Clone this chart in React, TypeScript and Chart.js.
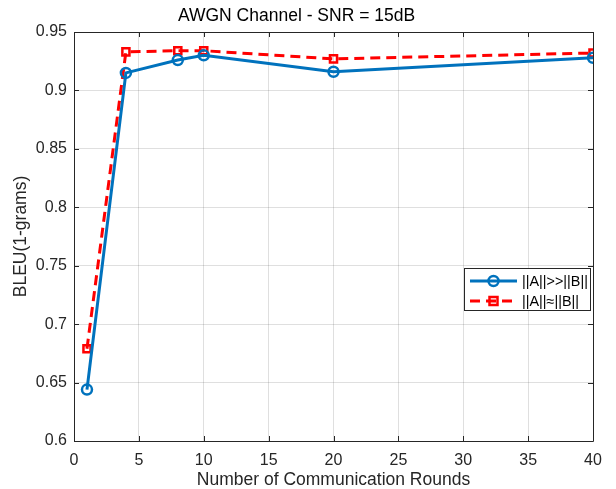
import React, { useEffect, useRef } from 'react';
import { Chart, registerables } from 'chart.js';

Chart.register(...registerables);

const rounds = [1, 4, 8, 10, 20, 40];
const bleuDominant = [0.644, 0.915, 0.926, 0.930, 0.916, 0.928];
const bleuEqual = [0.679, 0.933, 0.934, 0.934, 0.927, 0.932];
const seriesLabels = ['||A||>>||B||', '||A||\u2248||B||'];
const chartTitle = 'AWGN Channel - SNR = 15dB';
const xAxisTitle = 'Number of Communication Rounds';
const yAxisTitle = 'BLEU(1-grams)';
const xTickValues = [0, 5, 10, 15, 20, 25, 30, 35, 40];
const yTickValues = [0.6, 0.65, 0.7, 0.75, 0.8, 0.85, 0.9, 0.95];

const FONT = '"Liberation Sans", Arial, Helvetica, sans-serif';
const AXIS_COLOR = '#262626';
const BLUE = '#0072BD';
const RED = '#FF0000';

const frameAndLegend = {
  id: 'frameAndLegend',
  afterDraw(chart: any) {
    const { ctx, chartArea } = chart;
    const { left, right, top, bottom } = chartArea;
    const xs = chart.scales.x;
    const ys = chart.scales.y;
    ctx.save();
    // frame
    ctx.strokeStyle = AXIS_COLOR;
    ctx.lineWidth = 1;
    ctx.beginPath();
    ctx.rect(Math.round(left) + 0.5, Math.round(top) + 0.5, Math.round(right - left), Math.round(bottom - top));
    ctx.stroke();
    // inward ticks
    const tl = 5;
    ctx.beginPath();
    xTickValues.forEach((v) => {
      const px = Math.round(xs.getPixelForValue(v)) + 0.5;
      ctx.moveTo(px, bottom);
      ctx.lineTo(px, bottom - tl);
      ctx.moveTo(px, top);
      ctx.lineTo(px, top + tl);
    });
    yTickValues.forEach((v) => {
      const py = Math.round(ys.getPixelForValue(v)) + 0.5;
      ctx.moveTo(left, py);
      ctx.lineTo(left + tl, py);
      ctx.moveTo(right, py);
      ctx.lineTo(right - tl, py);
    });
    ctx.stroke();

    // legend
    const lx = right - 129;
    const ly = top + 236;
    const lw = 126;
    const lh = 42;
    ctx.fillStyle = '#ffffff';
    ctx.fillRect(lx, ly, lw, lh);
    ctx.strokeStyle = AXIS_COLOR;
    ctx.lineWidth = 1;
    ctx.strokeRect(Math.round(lx) + 0.5, Math.round(ly) + 0.5, lw, lh);
    const rows = [ly + 13, ly + 33];
    chart.data.datasets.forEach((ds: any, i: number) => {
      const cy = rows[i];
      const x0 = lx + 6;
      const x1 = lx + 53;
      const cx = (x0 + x1) / 2;
      ctx.strokeStyle = ds.borderColor;
      ctx.lineWidth = ds.borderWidth;
      ctx.setLineDash(ds.borderDash || []);
      ctx.beginPath();
      ctx.moveTo(x0, cy);
      ctx.lineTo(x1, cy);
      ctx.stroke();
      ctx.setLineDash([]);
      ctx.lineWidth = ds.pointBorderWidth;
      ctx.strokeStyle = ds.pointBorderColor;
      ctx.beginPath();
      if (ds.pointStyle === 'rect') {
        const s = ds.pointRadius * 1.6;
        ctx.rect(cx - s / 2, cy - s / 2, s, s);
      } else {
        ctx.arc(cx, cy, ds.pointRadius, 0, Math.PI * 2);
      }
      ctx.stroke();
      ctx.fillStyle = '#000000';
      ctx.font = `14.4px ${FONT}`;
      ctx.textAlign = 'left';
      ctx.textBaseline = 'middle';
      ctx.fillText(ds.label, lx + 58, cy + 1);
    });
    ctx.restore();
  },
};

export default function App() {
  const canvasRef = useRef<HTMLCanvasElement | null>(null);

  useEffect(() => {
    if (!canvasRef.current) return;
    const chart = new Chart(canvasRef.current, {
      type: 'line',
      data: {
        datasets: [
          {
            label: seriesLabels[0],
            data: rounds.map((r, i) => ({ x: r, y: bleuDominant[i] })),
            borderColor: BLUE,
            borderWidth: 3,
            pointStyle: 'circle',
            pointRadius: 5,
            pointBorderWidth: 2.5,
            pointBorderColor: BLUE,
            pointBackgroundColor: 'rgba(0,0,0,0)',
            fill: false,
            tension: 0,
          },
          {
            label: seriesLabels[1],
            data: rounds.map((r, i) => ({ x: r, y: bleuEqual[i] })),
            borderColor: RED,
            borderWidth: 3,
            borderDash: [10, 6],
            pointStyle: 'rect',
            pointRadius: 5,
            pointBorderWidth: 2.5,
            pointBorderColor: RED,
            pointBackgroundColor: 'rgba(0,0,0,0)',
            fill: false,
            tension: 0,
          },
        ],
      },
      options: {
        animation: false,
        responsive: false,
        maintainAspectRatio: false,
        layout: { padding: { left: 0, right: 23, top: 0, bottom: 0 } },
        plugins: {
          legend: { display: false },
          tooltip: { enabled: false },
          title: {
            display: true,
            text: chartTitle,
            color: '#000000',
            font: { family: FONT, size: 17.5, weight: 'normal', lineHeight: 1.2 },
            padding: { top: 6, bottom: 5 },
          },
        },
        scales: {
          x: {
            type: 'linear',
            min: 0,
            max: 40,
            afterBuildTicks: (scale: any) => {
              scale.ticks = xTickValues.map((v) => ({ value: v }));
            },
            afterFit: (scale: any) => {
              scale.height = 48;
            },
            ticks: {
              color: AXIS_COLOR,
              font: { family: FONT, size: 16 },
              padding: 10,
              maxRotation: 0,
              autoSkip: false,
            },
            grid: { color: 'rgba(38,38,38,0.15)', drawTicks: false, lineWidth: 1 },
            border: { display: false },
            title: {
              display: true,
              text: xAxisTitle,
              color: AXIS_COLOR,
              font: { family: FONT, size: 17.5, lineHeight: 1 },
              padding: { top: 0, bottom: 0 },
            },
          },
          y: {
            type: 'linear',
            min: 0.6,
            max: 0.95,
            afterBuildTicks: (scale: any) => {
              scale.ticks = yTickValues.map((v) => ({ value: v }));
            },
            afterFit: (scale: any) => {
              scale.width = 74;
            },
            ticks: {
              color: AXIS_COLOR,
              font: { family: FONT, size: 16 },
              padding: 7,
              autoSkip: false,
              callback: (v: any) => String(Number(Number(v).toFixed(2))),
            },
            grid: { color: 'rgba(38,38,38,0.15)', drawTicks: false, lineWidth: 1 },
            border: { display: false },
            title: {
              display: true,
              text: yAxisTitle,
              color: AXIS_COLOR,
              font: { family: FONT, size: 17.5, lineHeight: 1 },
              padding: { top: 12, bottom: 0 },
            },
          },
        },
      },
      plugins: [frameAndLegend],
    } as any);
    return () => chart.destroy();
  }, []);

  return (
    <div style={{ position: 'absolute', left: 0, top: 0, width: 616, height: 489, background: '#ffffff' }}>
      <canvas ref={canvasRef} width={616} height={489} />
    </div>
  );
}
